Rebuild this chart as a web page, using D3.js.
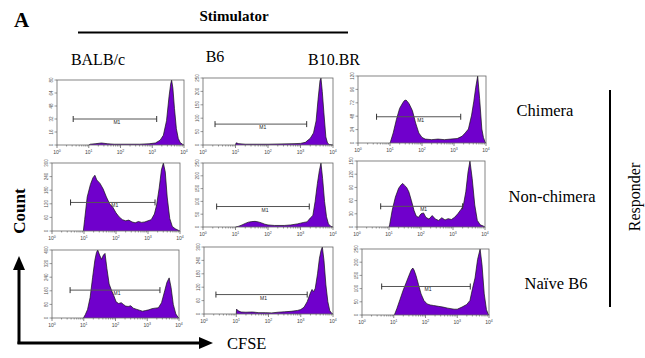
<!DOCTYPE html>
<html>
<head>
<meta charset="utf-8">
<script src="https://cdn.jsdelivr.net/npm/d3@7"></script>
<style>
body { margin: 0; background: #fff; }
svg { display: block; }
</style>
</head>
<body>
<svg id="chart" width="645" height="358"></svg>
<script>
// ---- data ----
const stimulators = ["BALB/c", "B6", "B10.BR"];
const responders = ["Chimera", "Non-chimera", "Naïve B6"];
const xTickExps = [0, 1, 2, 3, 4];

// histograms as [log10 CFSE, count]
const chimeraBalb = [[1.0,0],[1.05,1],[1.2,1.5],[1.4,2.5],[1.6,1.5],[1.8,1],[2.0,1],[2.3,1],[2.6,1],[2.9,1.5],[3.1,2.5],[3.25,6],[3.35,12],[3.45,30],[3.53,60],[3.58,75],[3.61,80],[3.65,70],[3.7,45],[3.76,20],[3.82,8],[3.88,3],[3.95,1],[4.0,0]];
const chimeraB6 = [[1.0,0],[1.02,8],[1.1,5],[1.3,3],[1.6,3],[2.0,3],[2.4,4],[2.8,5],[3.0,6],[3.15,10],[3.3,25],[3.4,45],[3.48,90],[3.54,170],[3.6,240],[3.63,250],[3.67,200],[3.72,120],[3.78,30],[3.83,8],[3.88,2],[4.0,0]];
const chimeraB10 = [[1.0,0],[1.02,3],[1.1,18],[1.2,42],[1.3,62],[1.4,72],[1.45,76],[1.5,77],[1.55,74],[1.6,70],[1.7,58],[1.8,36],[1.9,18],[2.0,10],[2.1,7],[2.3,6],[2.5,7],[2.7,6],[2.9,7],[3.1,8],[3.25,12],[3.35,18],[3.45,25],[3.55,50],[3.62,75],[3.68,100],[3.74,120],[3.8,80],[3.87,25],[3.92,10],[3.97,2],[4.0,0]];
const nonChimeraBalb = [[0.98,0],[1.02,50],[1.1,150],[1.2,205],[1.28,235],[1.34,246],[1.4,225],[1.5,210],[1.6,185],[1.7,150],[1.8,120],[1.9,105],[2.0,80],[2.1,62],[2.2,50],[2.3,45],[2.4,48],[2.5,40],[2.6,36],[2.7,42],[2.8,38],[2.9,40],[3.0,45],[3.1,50],[3.2,75],[3.27,115],[3.35,190],[3.42,270],[3.48,300],[3.54,260],[3.6,150],[3.68,55],[3.76,20],[3.85,10],[3.95,3],[4.0,0]];
const nonChimeraB6 = [[1.0,0],[1.1,3],[1.2,8],[1.3,14],[1.4,19],[1.5,21],[1.6,22],[1.7,20],[1.8,16],[1.9,11],[2.0,8],[2.2,6],[2.5,6],[2.7,8],[2.9,12],[3.0,15],[3.1,18],[3.2,20],[3.3,35],[3.38,45],[3.45,100],[3.52,170],[3.58,220],[3.63,250],[3.68,190],[3.74,100],[3.8,40],[3.86,12],[3.93,3],[4.0,0]];
const nonChimeraB10 = [[1.0,0],[1.02,5],[1.1,38],[1.2,68],[1.3,88],[1.38,96],[1.43,99],[1.48,95],[1.55,90],[1.62,80],[1.7,60],[1.78,38],[1.85,25],[1.92,22],[2.0,30],[2.08,32],[2.15,22],[2.25,18],[2.35,26],[2.45,18],[2.55,15],[2.65,21],[2.75,16],[2.85,19],[2.95,17],[3.05,22],[3.15,30],[3.25,40],[3.32,48],[3.4,80],[3.47,125],[3.53,150],[3.6,110],[3.68,50],[3.76,15],[3.85,5],[3.95,2],[4.0,0]];
const naiveBalb = [[0.99,0],[1.05,20],[1.12,50],[1.2,120],[1.28,240],[1.35,340],[1.4,385],[1.44,400],[1.5,370],[1.56,345],[1.62,370],[1.67,380],[1.73,290],[1.8,200],[1.88,160],[1.95,130],[2.02,95],[2.1,85],[2.18,90],[2.25,80],[2.32,70],[2.4,68],[2.48,72],[2.56,58],[2.65,52],[2.75,46],[2.85,40],[2.95,44],[3.05,48],[3.15,55],[3.25,58],[3.35,60],[3.45,90],[3.55,160],[3.62,210],[3.69,236],[3.75,180],[3.82,80],[3.9,24],[3.97,4],[4.0,0]];
const naiveB6 = [[1.0,0],[1.01,22],[1.06,14],[1.15,9],[1.3,8],[1.5,9],[1.7,6],[1.9,6],[2.1,5],[2.3,8],[2.5,10],[2.7,12],[2.9,16],[3.0,20],[3.1,30],[3.2,55],[3.3,95],[3.35,110],[3.4,100],[3.45,115],[3.52,180],[3.58,250],[3.63,285],[3.67,300],[3.72,240],[3.78,130],[3.84,55],[3.9,15],[3.96,3],[4.0,0]];
const naiveB10 = [[1.0,0],[1.03,3],[1.1,25],[1.2,60],[1.3,95],[1.4,125],[1.48,150],[1.55,170],[1.6,178],[1.64,170],[1.7,150],[1.78,115],[1.86,80],[1.95,55],[2.05,42],[2.15,38],[2.25,36],[2.4,33],[2.55,30],[2.7,26],[2.9,22],[3.0,22],[3.15,30],[3.3,40],[3.4,55],[3.48,100],[3.56,140],[3.64,210],[3.72,250],[3.78,190],[3.85,80],[3.92,20],[3.97,5],[4.0,0]];

// y ticks per panel (row-major)
const yTicks = [
    [0,16,32,48,64,80], [0,50,100,150,200,250], [0,24,48,72,96,120],
    [0,60,120,180,240,300], [0,50,100,150,200,250], [0,30,60,90,120,150],
    [0,80,160,240,320,400], [0,60,120,180,240,300], [0,50,100,150,200,250]
];
// M1 gate: [lo exp, hi exp, count level]
const m1Gates = [
    [0.51,3.14,32], [0.37,3.19,78], [0.58,3.21,47],
    [0.58,3.22,126], [0.42,3.27,80], [0.74,3.3,47],
    [0.57,3.4,164], [0.37,3.2,87], [0.62,3.41,108]
];
const histograms = [chimeraBalb, chimeraB6, chimeraB10, nonChimeraBalb, nonChimeraB6, nonChimeraB10, naiveBalb, naiveB6, naiveB10];

// ---- layout ----
const boxes = [
    {x: 57, y: 80, w: 127, h: 65}, {x: 203, y: 78, w: 130, h: 67}, {x: 358, y: 76, w: 128, h: 67},
    {x: 52, y: 163, w: 128, h: 68}, {x: 203, y: 163, w: 130, h: 64}, {x: 357, y: 161, w: 128, h: 66},
    {x: 52, y: 250, w: 127, h: 68}, {x: 204, y: 247, w: 129, h: 67}, {x: 362, y: 249, w: 127, h: 66}
];
const PURPLE = "#7000cc";
const SERIF = "'Liberation Serif', 'Times New Roman', serif";
const SANS = "'Liberation Sans', Arial, sans-serif";

const svg = d3.select("#chart");

const translate = (x, y) => "translate(" + x + "," + y + ")";

histograms.forEach((hist, i) => {
    const b = boxes[i];
    const ticks = yTicks[i];
    const gate = m1Gates[i];
    const g = svg.append("g").attr("transform", translate(b.x, b.y));

    const x = d3.scaleLog().domain([1, 1e4]).range([0, b.w]);
    const y = d3.scaleLinear().domain([0, ticks[ticks.length - 1]]).range([b.h, 0]);

    const area = d3.area()
        .x(d => x(Math.pow(10, d[0])))
        .y0(b.h)
        .y1(d => y(d[1]));
    const line = d3.line()
        .x(d => x(Math.pow(10, d[0])))
        .y(d => y(d[1]));

    g.append("path").datum(hist).attr("d", area).attr("fill", PURPLE);
    g.append("path").datum(hist).attr("d", line)
        .attr("fill", "none").attr("stroke", "#111").attr("stroke-width", 0.7);

    g.append("rect")
        .attr("width", b.w).attr("height", b.h)
        .attr("fill", "none").attr("stroke", "#666").attr("stroke-width", 0.8);

    // x axis: major + minor log ticks
    const minor = [];
    for (let e = 0; e < 4; e++) for (let k = 2; k <= 9; k++) minor.push(k * Math.pow(10, e));
    g.selectAll("line.minor").data(minor).enter().append("line")
        .attr("x1", d => x(d)).attr("x2", d => x(d))
        .attr("y1", b.h).attr("y2", b.h + 1.5)
        .attr("stroke", "#555").attr("stroke-width", 0.6);
    g.selectAll("line.major").data(xTickExps).enter().append("line")
        .attr("x1", d => x(Math.pow(10, d))).attr("x2", d => x(Math.pow(10, d)))
        .attr("y1", b.h).attr("y2", b.h + 3)
        .attr("stroke", "#555").attr("stroke-width", 0.7);
    const xl = g.selectAll("text.xl").data(xTickExps).enter().append("text")
        .attr("x", d => x(Math.pow(10, d)))
        .attr("y", b.h + 9)
        .attr("text-anchor", "middle")
        .attr("font-family", SANS).attr("font-size", 5).attr("fill", "#444");
    xl.append("tspan").text("10");
    xl.append("tspan").attr("dy", -2).attr("font-size", 3.5).text(d => d);

    // y axis
    g.selectAll("line.yt").data(ticks).enter().append("line")
        .attr("x1", -2.5).attr("x2", 0)
        .attr("y1", d => y(d)).attr("y2", d => y(d))
        .attr("stroke", "#555").attr("stroke-width", 0.6);
    g.selectAll("text.yl").data(ticks).enter().append("text")
        .attr("transform", d => translate(-4.5, y(d)) + " rotate(-90)")
        .attr("text-anchor", "middle")
        .attr("font-family", SANS).attr("font-size", 4.5).attr("fill", "#555")
        .text(d => d);

    // M1 gate
    const gx1 = x(Math.pow(10, gate[0])), gx2 = x(Math.pow(10, gate[1])), gy = y(gate[2]);
    g.append("line").attr("x1", gx1).attr("x2", gx2).attr("y1", gy).attr("y2", gy)
        .attr("stroke", "#555").attr("stroke-width", 1);
    [gx1, gx2].forEach(gx => {
        g.append("line").attr("x1", gx).attr("x2", gx).attr("y1", gy - 3).attr("y2", gy + 3)
            .attr("stroke", "#333").attr("stroke-width", 1);
    });
    g.append("text")
        .attr("x", (gx1 + gx2) / 2 + 2).attr("y", gy + 5)
        .attr("text-anchor", "middle")
        .attr("font-family", SANS).attr("font-size", 5).attr("fill", "#222")
        .text("M1");
});

// ---- headings ----
svg.append("text").attr("x", 14).attr("y", 27)
    .attr("font-family", SERIF).attr("font-weight", "bold").attr("font-size", 21).text("A");

svg.append("text").attr("x", 234).attr("y", 21).attr("text-anchor", "middle")
    .attr("font-family", SERIF).attr("font-weight", "bold").attr("font-size", 15).text("Stimulator");
svg.append("line").attr("x1", 78).attr("x2", 348).attr("y1", 32.5).attr("y2", 32.5)
    .attr("stroke", "#000").attr("stroke-width", 2);

const colCenters = [98, 215, 334];
svg.selectAll("text.col").data(stimulators).enter().append("text")
    .attr("x", (d, i) => colCenters[i]).attr("y", (d, i) => i === 1 ? 62 : 65)
    .attr("text-anchor", "middle")
    .attr("font-family", SERIF).attr("font-size", 16).text(d => d);

const rowCenters = [110, 196, 283];
const rowX = [545, 552, 556];
svg.selectAll("text.row").data(responders).enter().append("text")
    .attr("x", (d, i) => rowX[i]).attr("y", (d, i) => rowCenters[i] + 5.5)
    .attr("text-anchor", "middle")
    .attr("font-family", SERIF).attr("font-size", 16.5).text(d => d);

svg.append("line").attr("x1", 610).attr("x2", 610).attr("y1", 90).attr("y2", 307)
    .attr("stroke", "#000").attr("stroke-width", 2);
svg.append("text").attr("transform", translate(640, 197) + " rotate(-90)")
    .attr("text-anchor", "middle")
    .attr("font-family", SERIF).attr("font-size", 16).text("Responder");

svg.append("text").attr("transform", translate(25, 211) + " rotate(-90)")
    .attr("text-anchor", "middle")
    .attr("font-family", SERIF).attr("font-weight", "bold").attr("font-size", 17).text("Count");

// arrows
svg.append("line").attr("x1", 19).attr("x2", 19).attr("y1", 344).attr("y2", 268)
    .attr("stroke", "#000").attr("stroke-width", 3);
svg.append("path").attr("d", "M19,256 L13,270 L25,270 Z").attr("fill", "#000");
svg.append("line").attr("x1", 17.5).attr("x2", 200).attr("y1", 343).attr("y2", 343)
    .attr("stroke", "#000").attr("stroke-width", 3);
svg.append("path").attr("d", "M213,343 L199,337 L199,349 Z").attr("fill", "#000");

svg.append("text").attr("x", 227).attr("y", 349)
    .attr("font-family", SERIF).attr("font-size", 16.5).text("CFSE");
</script>
</body>
</html>
